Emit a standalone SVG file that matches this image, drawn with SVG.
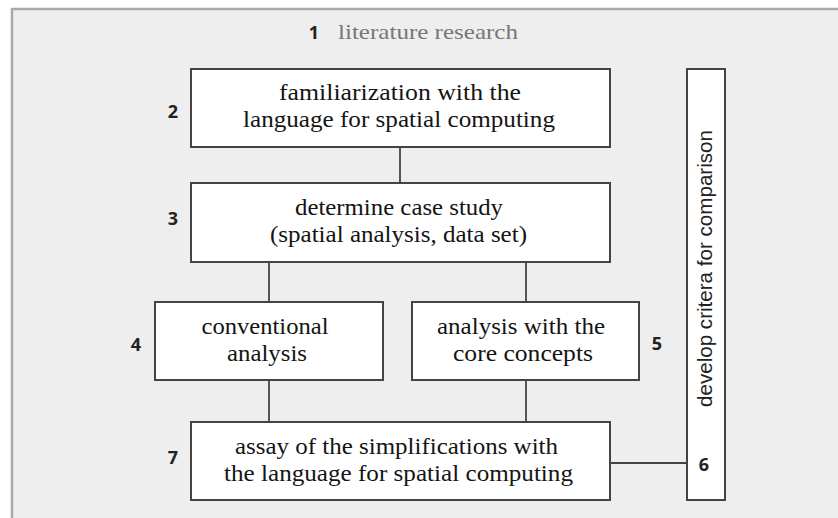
<svg xmlns="http://www.w3.org/2000/svg" width="838" height="518" viewBox="0 0 838 518">
<style>
.box{fill:#ffffff;stroke:#444444;stroke-width:2}
.t{font-family:"Liberation Serif","Times New Roman",serif;font-size:23px;fill:#141414;text-anchor:middle}
.num{font-family:"Open Sans","Liberation Sans",sans-serif;font-size:18px;font-weight:bold;fill:#222222;text-anchor:middle}
.con{stroke:#444444;stroke-width:1.8;fill:none}
</style>
<rect x="0" y="0" width="838" height="518" fill="#ffffff"/>
<g id="panel">
<rect x="12" y="9" width="840" height="520" fill="#eeeeee" stroke="#aaaaaa" stroke-width="2.5"/>
</g>
<g id="node1">
<text class="num" x="314" y="39">1</text>
<text x="338" y="39" font-family="'Liberation Serif','Times New Roman',serif" font-size="22" fill="#777777" textLength="180" lengthAdjust="spacingAndGlyphs">literature research</text>
</g>
<g id="connectors">
<line class="con" x1="400" y1="147" x2="400" y2="183"/>
<line class="con" x1="269" y1="262" x2="269" y2="302"/>
<line class="con" x1="526" y1="262" x2="526" y2="302"/>
<line class="con" x1="269" y1="380" x2="269" y2="422"/>
<line class="con" x1="526" y1="380" x2="526" y2="422"/>
<line class="con" x1="610" y1="463" x2="687" y2="463"/>
</g>
<g id="node2">
<rect class="box" x="191" y="69" width="419" height="78"/>
<text class="t" x="400" y="100" textLength="242" lengthAdjust="spacingAndGlyphs">familiarization with the</text>
<text class="t" x="399" y="127" textLength="312" lengthAdjust="spacingAndGlyphs">language for spatial computing</text>
<text class="num" x="173" y="118">2</text>
</g>
<g id="node3">
<rect class="box" x="191" y="183" width="419" height="79"/>
<text class="t" x="399" y="215" textLength="208" lengthAdjust="spacingAndGlyphs">determine case study</text>
<text class="t" x="398.5" y="242" textLength="257" lengthAdjust="spacingAndGlyphs">(spatial analysis, data set)</text>
<text class="num" x="173" y="225">3</text>
</g>
<g id="node4">
<rect class="box" x="155" y="302" width="228" height="78"/>
<text class="t" x="265" y="334" textLength="127" lengthAdjust="spacingAndGlyphs">conventional</text>
<text class="t" x="267" y="361" textLength="80" lengthAdjust="spacingAndGlyphs">analysis</text>
<text class="num" x="136" y="351">4</text>
</g>
<g id="node5">
<rect class="box" x="412" y="302" width="227" height="78"/>
<text class="t" x="521" y="334" textLength="168" lengthAdjust="spacingAndGlyphs">analysis with the</text>
<text class="t" x="523" y="361" textLength="140" lengthAdjust="spacingAndGlyphs">core concepts</text>
<text class="num" x="657" y="350">5</text>
</g>
<g id="node7">
<rect class="box" x="191" y="422" width="419" height="78"/>
<text class="t" x="396.5" y="454" textLength="323" lengthAdjust="spacingAndGlyphs">assay of the simplifications with</text>
<text class="t" x="398.5" y="481" textLength="349" lengthAdjust="spacingAndGlyphs">the language for spatial computing</text>
<text class="num" x="173" y="464">7</text>
</g>
<g id="node6">
<rect class="box" x="687" y="69" width="38" height="431"/>
<text x="0" y="0" transform="translate(712,407) rotate(-90)" font-family="'Liberation Sans',Arial,sans-serif" font-size="20" fill="#222222" textLength="277" lengthAdjust="spacingAndGlyphs">develop critera for comparison</text>
<text class="num" x="704" y="471">6</text>
</g>
</svg>
